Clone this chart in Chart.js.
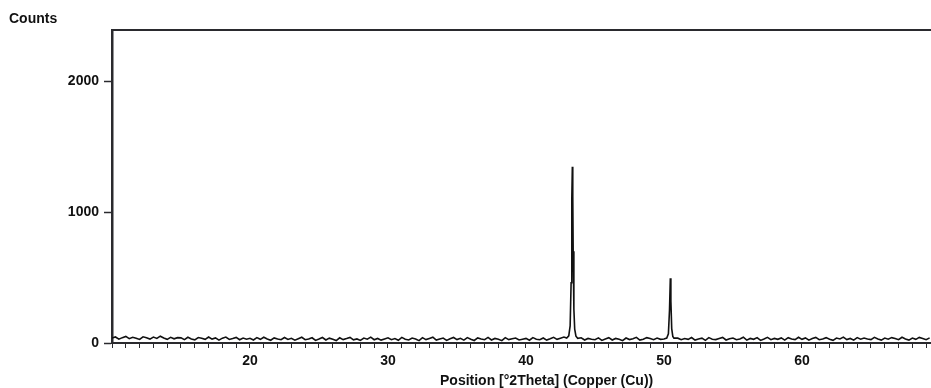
<!DOCTYPE html>
<html>
<head>
<meta charset="utf-8">
<title>XRD pattern</title>
<script src="https://cdn.jsdelivr.net/npm/chart.js@4.4.1/dist/chart.umd.min.js"></script>
<style>
  html, body { margin: 0; padding: 0; background: #fff; overflow: hidden; }
  .wrap { position: relative; width: 931px; height: 388px; }
  .lbl { position: absolute; font: bold 14px 'Liberation Sans', Arial, sans-serif; line-height: 14px; color: #111; white-space: nowrap; }
  #yTitle { left: 9px; top: 11px; }
  #xTitle { left: 440px; top: 373px; }
</style>
</head>
<body>
<div class="wrap">
  <canvas id="xrd" width="931" height="388"></canvas>
  <div class="lbl" id="yTitle">Counts</div>
  <div class="lbl" id="xTitle">Position [°2Theta] (Copper (Cu))</div>
</div>
<script>
/* --- data ------------------------------------------------------------- */
const SCAN_START = 10;      // °2Theta of first background reading
const SCAN_STEP = 0.25;     // °2Theta between background readings

// background counts, one row per 5 °2Theta
const backgroundCounts = [
  38,46,29,41,50,33,44,36,27,47,40,30,45,35,52,38,28,43,32,41,
  39,26,44,31,24,42,36,28,46,30,39,22,37,45,27,34,43,25,38,29,
  36,23,41,28,44,31,21,39,30,25,42,27,36,22,33,44,25,30,40,20,
  30,42,23,37,28,19,40,26,34,43,24,31,20,38,29,45,25,35,22,31,
  40,25,34,21,43,29,23,38,31,18,41,26,35,44,22,30,38,20,33,42,
  26,36,22,41,29,19,39,31,25,43,23,35,28,18,41,26,32,38,23,29,
  35,21,41,29,25,38,22,32,43,28,37,45,48,33,26,31,40,23,35,29,
  25,39,20,31,41,23,35,28,18,38,26,32,43,22,29,41,34,25,38,28,
  31,40,44,46,37,25,34,28,42,22,31,37,20,41,29,26,35,43,23,32,
  38,25,31,44,22,35,28,41,20,31,43,25,35,28,39,22,41,31,26,44,
  28,39,22,34,43,25,31,41,28,20,38,31,45,26,35,22,41,29,38,31,
  26,43,31,22,38,29,41,34,25,44,31,22,38,28,43,34,25,39
];

// Cu (111) reflection
const peak111Angles = [42.95, 43.10, 43.20, 43.27, 43.32, 43.36, 43.39, 43.42, 43.47, 43.53, 43.62, 43.75];
const peak111Counts = [38, 55, 130, 460, 1100, 1345, 1120, 700, 260, 105, 52, 36];

// Cu (200) reflection
const peak200Angles = [50.20, 50.32, 50.40, 50.46, 50.50, 50.56, 50.64, 50.72];
const peak200Counts = [38, 70, 250, 495, 320, 110, 50, 37];

const X_MIN = 10, X_MAX = 69.35;
const Y_MIN = 0, Y_MAX = 2390;
const xTickLabels = [20, 30, 40, 50, 60];
const yTickLabels = [0, 1000, 2000];

/* --- build the point list ---------------------------------------------- */
const peakWindows = [[42.9, 43.8], [50.15, 50.75]];

function inPeak(a) { return peakWindows.some(([lo, hi]) => a >= lo && a <= hi); }

const points = [];
backgroundCounts.forEach((c, i) => {
  const a = SCAN_START + i * SCAN_STEP;
  if (!inPeak(a)) points.push({ x: a, y: c });
});
peak111Angles.forEach((a, i) => points.push({ x: a, y: peak111Counts[i] }));
peak200Angles.forEach((a, i) => points.push({ x: a, y: peak200Counts[i] }));
points.sort((p, q) => p.x - q.x);

/* --- chart ---------------------------------------------------------------- */
const FONT = { family: "'Liberation Sans', Arial, sans-serif", size: 14, weight: 'bold' };
const AXIS = '#2a2a2e';

new Chart(document.getElementById('xrd'), {
  type: 'line',
  data: {
    datasets: [{
      data: points,
      borderColor: '#111',
      borderWidth: 1.6,
      pointRadius: 0,
      tension: 0,
      fill: false,
    }],
  },
  options: {
    responsive: false,
    animation: false,
    events: [],
    layout: { padding: { top: 30, left: 0, right: 0, bottom: 0 } },
    plugins: { legend: { display: false }, tooltip: { enabled: false } },
    scales: {
      x: {
        type: 'linear', position: 'bottom', min: X_MIN, max: X_MAX,
        ticks: {
          stepSize: 1, autoSkip: false, maxRotation: 0, includeBounds: false,
          padding: 5, color: '#111', font: FONT,
          callback: v => (xTickLabels.includes(v) ? String(v) : ''),
        },
        grid: { drawOnChartArea: false, drawTicks: true, tickLength: 5, tickColor: AXIS, tickWidth: 1 },
        border: { display: true, color: AXIS, width: 2 },
        afterFit(s) { s.height = 45; s.paddingLeft = 0; s.paddingRight = 0; },
      },
      xTop: {
        type: 'linear', position: 'top', min: X_MIN, max: X_MAX,
        ticks: { display: false },
        grid: { display: false, drawTicks: false },
        border: { display: true, color: AXIS, width: 2 },
        afterFit(s) { s.height = 0; s.paddingLeft = 0; s.paddingRight = 0; },
      },
      y: {
        type: 'linear', min: Y_MIN, max: Y_MAX,
        afterBuildTicks(s) { s.ticks = yTickLabels.map(v => ({ value: v })); },
        ticks: {
          padding: 5, color: '#111', font: FONT,
          callback: v => String(v),
        },
        grid: { drawOnChartArea: false, drawTicks: true, tickLength: 8, tickColor: AXIS, tickWidth: 1.5 },
        border: { display: true, color: AXIS, width: 2.5 },
        afterFit(s) { s.width = 112; s.paddingTop = 0; s.paddingBottom = 0; },
      },
    },
  },
});
</script>
</body>
</html>
